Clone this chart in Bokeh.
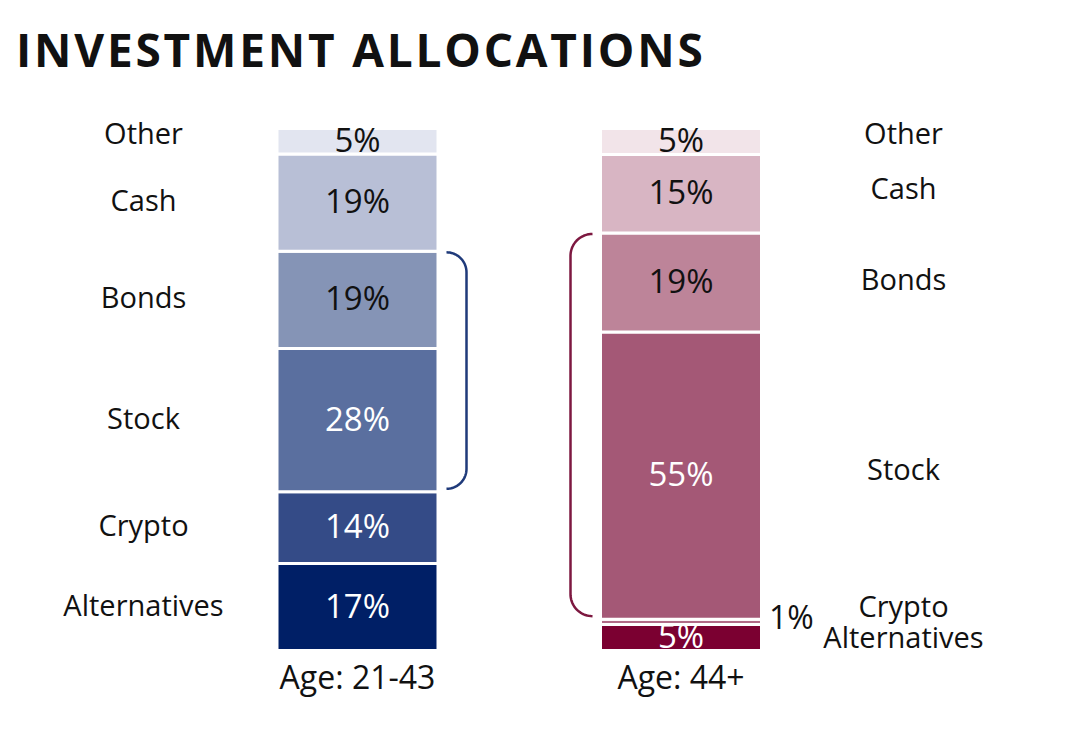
import numpy as np
from bokeh.plotting import figure
from bokeh.layouts import column
from bokeh.models import ColumnDataSource, Range1d, Div
from bokeh.core.properties import value
from bokeh.embed import file_html
from bokeh.resources import INLINE

title = "INVESTMENT ALLOCATIONS"
categories = ["Alternatives", "Crypto", "Stock", "Bonds", "Cash", "Other"]
groups = ["Age: 21-43", "Age: 44+"]
young = [17, 14, 28, 19, 19, 5]
older = [5, 1, 55, 19, 15, 5]
young_colors = ["#001f66", "#344b87", "#5a6f9f", "#8594b6", "#b8bfd6", "#e2e5f0"]
older_colors = ["#7b0031", "#b06a86", "#a45876", "#bd8499", "#d8b5c3", "#f2e4e9"]
young_text = ["white", "white", "white", "#111111", "#111111", "#111111"]
older_text = ["white", "white", "white", "#111111", "#111111", "#111111"]
bracket_colors = ["#1f3a7a", "#7d1840"]

FONT = "Open Sans"
W = 1050
HEAD = 100     # height of the title block
FIG_TOP = 109  # page row where the chart starts
H = 612        # height of the chart below the title
BAR_PX = 522   # pixel height of a full bar
BASE = 649     # page row of the bars' bottom


def yrow(row):
    # page row -> y data value (bars run 0..1)
    return (BASE - row) / BAR_PX


head = Div(text=f'<div style="font-family:\'Open Sans\';font-weight:bold;font-size:46px;'
                f'letter-spacing:2.8px;color:#111111;padding:12px 0 0 11px;margin:0;">{title}</div>',
           width=W, height=HEAD)

p = figure(width=W, height=H, x_range=Range1d(0, W),
           y_range=Range1d(yrow(FIG_TOP + H), yrow(FIG_TOP)),
           output_backend="svg", toolbar_location=None, min_border=0,
           x_axis_location=None, y_axis_location=None, outline_line_color=None)
p.grid.visible = False

# label nudges in pixels (negative = up)
bars = [
    dict(vals=young, colors=young_colors, tcolors=young_text, xc=357, lab_x=143,
         nudge={"Other": -9}, bx=466, br=20, side=-1),
    dict(vals=older, colors=older_colors, tcolors=older_text, xc=680.5, lab_x=903,
         nudge={"Other": -9, "Cash": -6, "Bonds": -4, "Stock": -7, "Crypto": -16, "Alternatives": -1},
         bx=570, br=22, side=1),
]

for i, b in enumerate(bars):
    v = np.array(b["vals"], float)
    frac = v / v.sum()
    top = np.cumsum(frac)
    bottom = top - frac
    mid = (top + bottom) / 2

    src = ColumnDataSource(dict(bottom=bottom, top=top, color=b["colors"]))
    p.vbar(x=b["xc"], width=161, bottom="bottom", top="top", fill_color="color",
           line_color="white", line_width=3, source=src)

    # percentage labels
    inside = frac >= 0.03
    pct = [f"{int(x)}%" for x in b["vals"]]
    p.text(x=[b["xc"]] * int(inside.sum()), y=mid[inside] + 2 / BAR_PX,
           text=[t for t, k in zip(pct, inside) if k],
           text_color=[c for c, k in zip(b["tcolors"], inside) if k],
           text_font=value(FONT), text_font_size="33px", text_align="center",
           text_baseline="middle")
    if (~inside).any():
        p.text(x=[b["xc"] + 80 + 8] * int((~inside).sum()), y=mid[~inside] + 5 / BAR_PX,
               text=[t for t, k in zip(pct, inside) if not k], text_color="#111111",
               text_font=value(FONT), text_font_size="32px", text_align="left",
               text_baseline="middle")

    # category labels
    ly = [m - (b["nudge"].get(c, -3)) / BAR_PX for m, c in zip(mid, categories)]
    p.text(x=[b["lab_x"]] * len(categories), y=ly, text=categories, text_color="#111111",
           text_font=value(FONT), text_font_size="29px", text_align="center",
           text_baseline="middle")

    # group label under the bar
    p.text(x=[b["xc"]], y=[yrow(675)], text=[groups[i]], text_color="#111111",
           text_font=value(FONT), text_font_size="32px", text_align="center",
           text_baseline="middle")

    # bracket spanning Bonds + Stock
    y_hi = top[categories.index("Bonds")] - 1 / BAR_PX
    y_lo = bottom[categories.index("Stock")] + 3 / BAR_PX
    r, ry = b["br"], b["br"] / BAR_PX
    cx = b["bx"] + b["side"] * r
    if b["side"] < 0:
        t1 = np.linspace(np.pi / 2, 0, 20)
        t2 = np.linspace(0, -np.pi / 2, 20)
    else:
        t1 = np.linspace(np.pi / 2, np.pi, 20)
        t2 = np.linspace(np.pi, 3 * np.pi / 2, 20)
    xs = np.concatenate([cx + r * np.cos(t1), cx + r * np.cos(t2)])
    ys = np.concatenate([y_hi - ry + ry * np.sin(t1), y_lo + ry + ry * np.sin(t2)])
    p.line(xs, ys, line_color=bracket_colors[i], line_width=2.5)

open("out.html", "w").write(file_html(column(head, p), INLINE))
